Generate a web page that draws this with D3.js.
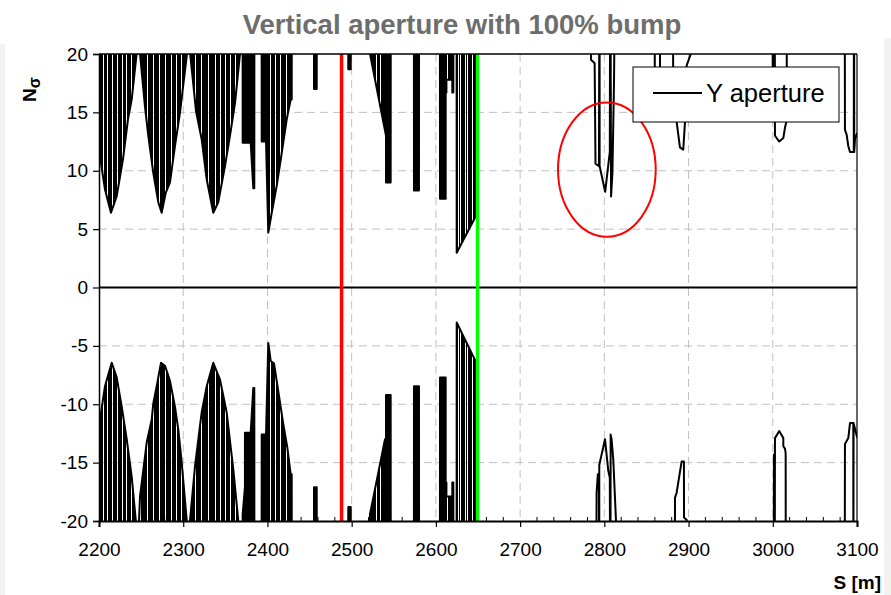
<!DOCTYPE html>
<html>
<head>
<meta charset="utf-8">
<script src="https://cdn.jsdelivr.net/npm/d3@7"></script>
<style>
  html, body { margin: 0; padding: 0; background: #ffffff; }
  svg { display: block; font-family: "Liberation Sans", Arial, sans-serif; }
</style>
</head>
<body>
<svg id="chart" width="891" height="595"></svg>
<script>
// ---------------- DATA ----------------
const title = "Vertical aperture with 100% bump";
const seriesName = "Y aperture";
const xLabel = "S [m]";
const xTicks = [2200, 2300, 2400, 2500, 2600, 2700, 2800, 2900, 3000, 3100];
const yTicks = [-20, -15, -10, -5, 0, 5, 10, 15, 20];

// upper aperture boundary [s, Nsigma] (values above 20 are off-scale)
const upperAperture = [
  [2199,12.5],[2201.2,11.2],[2207.1,8.4],[2214.2,6.4],[2221.0,7.8],[2228.5,11.0],[2234.4,14.4],[2238.8,16.1],[2244.8,20.1],[2246,23],
  [2248.7,20.0],[2254.6,15.5],[2258.5,13.0],[2264.5,9.8],[2270.4,7.3],[2274.4,6.4],[2279.2,8.1],[2284.3,9.0],[2290.2,12.1],[2296.2,15.0],[2304.1,19.8],[2306,23],
  [2308.0,20.2],[2315.2,15.1],[2321.9,12.7],[2327.9,9.25],[2335.7,6.4],[2341.6,7.3],[2349.6,10.4],[2355.5,13.0],[2361.5,15.8],[2367.4,20.0],[2369,23],
  [2370.5,23],[2370.6,12.4],[2380.1,12.4],[2383.2,8.5],[2384.4,8.5],[2384.5,23],
  [2393.1,23],[2393.2,12.5],[2398.3,12.5],[2401.0,4.7],[2405.1,6.4],[2411.0,8.7],[2416.9,11.5],[2422.9,14.4],[2427.6,16.1],[2428.8,16.1],[2428.9,23],
  [2455.2,23],[2455.3,17.0],[2458.5,17.0],[2458.6,23],
  [2495.9,23],[2496.0,18.7],[2498.9,18.7],[2499.0,23],
  [2521.7,23],[2521.8,20.0],[2540.8,13.0],[2540.8,9.0],[2546.3,9.0],[2546.4,23],
  [2573.9,23],[2574.0,8.3],[2579.9,8.3],[2580.0,23],
  [2604.8,23],[2604.9,7.6],[2611.6,7.6],[2611.6,16.7],[2612.5,16.7],[2612.5,17.8],[2619.5,17.8],[2619.5,16.7],[2620.7,16.7],[2620.8,23],
  [2624.6,23],[2624.7,2.97],[2646.4,5.97],[2646.5,23],
  [2783.6,23],[2784.2,19.5],[2788.5,19.2],[2789.5,10.6],[2793.6,10.4],[2794.0,23],[2794.4,23],[2794.4,10.4],[2801.0,8.2],[2805.5,11.0],[2806.5,11.6],[2806.8,23],
  [2807.4,23],[2808.0,7.8],[2809.6,9.8],[2811.5,17.6],[2812.2,23],
  [2859.8,23],[2860.0,15.0],[2866.0,15.0],[2866.2,23],
  [2881.5,23],[2881.8,17.0],[2885.8,14.2],[2889.8,12.0],[2893.7,11.8],[2895.7,14.1],[2897.7,19.0],[2903.6,20.2],[2904,23],
  [2999.8,23],[3000.0,14.5],[3001.0,14.5],[3001.2,23],[3002.4,23],[3002.6,13.0],[3007.7,12.5],[3012.5,12.8],[3014.5,13.7],[3016.5,14.3],[3016.7,23],
  [3085.5,23],[3085.7,13.5],[3087.7,13.1],[3089.7,12.1],[3091.7,11.6],[3096.2,11.6],[3096.3,23],[3096.6,23],[3096.7,11.6],[3097.6,12.7],[3100,13.2],[3101,13.2]
];

// lower aperture boundary [s, Nsigma] (values below -20 are off-scale)
const lowerAperture = [
  [2199,-12.5],[2201.2,-11.3],[2207.1,-8.45],[2215.1,-6.45],[2221.0,-7.7],[2227.0,-10.2],[2232.9,-13.0],[2238.8,-16.2],[2243.9,-20.1],[2246,-23],
  [2247.5,-20.0],[2248.7,-17.9],[2256.6,-13.3],[2262.6,-11.3],[2264.5,-9.9],[2268.5,-8.45],[2273.6,-6.45],[2278.4,-6.7],[2284.3,-8.0],[2290.2,-10.2],[2294.2,-12.2],[2298.2,-15.0],[2304.1,-19.9],[2306,-23],
  [2308.0,-20.0],[2314.0,-15.3],[2321.9,-10.7],[2327.9,-8.45],[2335.7,-6.45],[2343.7,-7.9],[2351.6,-10.7],[2359.5,-15.6],[2365.4,-20.0],[2369,-23],
  [2370.5,-23],[2370.6,-19.4],[2373.3,-17.1],[2373.3,-12.45],[2380.1,-12.45],[2383.2,-8.6],[2384.4,-8.6],[2384.5,-23],
  [2393.1,-23],[2393.2,-12.6],[2398.3,-12.6],[2401.0,-4.75],[2403.9,-6.3],[2407.8,-6.5],[2412.9,-8.9],[2418.8,-11.7],[2423.6,-13.7],[2427.6,-16.0],[2428.8,-16.0],[2428.9,-23],
  [2455.2,-23],[2455.3,-17.1],[2458.5,-17.1],[2458.6,-23],
  [2495.9,-23],[2496.0,-18.8],[2498.9,-18.8],[2499.0,-23],
  [2521.7,-23],[2521.8,-19.4],[2539.6,-13.0],[2540.8,-13.0],[2540.8,-9.2],[2546.3,-9.2],[2546.4,-23],
  [2573.9,-23],[2574.0,-8.45],[2579.9,-8.45],[2580.0,-23],
  [2604.8,-23],[2604.9,-7.7],[2611.6,-7.7],[2611.6,-16.7],[2612.5,-16.7],[2612.5,-17.9],[2619.5,-17.9],[2619.5,-16.7],[2620.7,-16.7],[2620.8,-23],
  [2624.6,-23],[2624.7,-3.0],[2646.4,-6.2],[2646.5,-23],
  [2790.6,-23],[2790.8,-17.6],[2792.3,-16.0],[2793.5,-16.0],[2793.8,-23],[2794.0,-23],[2794.0,-15.2],[2800.8,-13.0],[2804.7,-15.7],[2806.5,-16.3],[2806.8,-23],
  [2807.3,-23],[2807.5,-12.6],[2808.6,-13.0],[2810.6,-14.7],[2813.8,-19.9],[2814,-23],
  [2883.8,-23],[2883.9,-18.0],[2885.8,-17.6],[2891.8,-14.9],[2894.5,-14.9],[2894.6,-19.7],[2897.7,-19.9],[2897.8,-23],
  [3001.2,-23],[3001.4,-14.3],[3002.0,-14.3],[3002.2,-23],[3002.4,-23],[3002.6,-12.9],[3007.7,-12.3],[3012.5,-12.9],[3012.5,-13.6],[3014.5,-13.8],[3015.3,-14.2],[3015.4,-23],
  [3085.5,-23],[3085.7,-13.4],[3089.7,-12.9],[3091.7,-11.6],[3095.6,-11.6],[3095.7,-23],[3095.8,-23],[3095.9,-11.6],[3097.6,-12.1],[3100,-12.8],[3101,-12.8]
];

// element spans [s0, s1] where the aperture line runs off-scale (solid-looking bars)
const elementSpans = [
  [2200.0,2204.6],[2205.8,2210.0],[2211.2,2215.6],[2216.8,2221.0],[2222.2,2226.8],[2228.0,2232.6],[2233.8,2238.0],[2239.2,2244.5],
  [2249.5,2257.0],[2258.2,2264.4],[2265.6,2271.4],[2272.6,2278.4],[2279.6,2284.9],[2286.1,2291.4],[2292.6,2297.9],[2299.1,2305.0],
  [2307.5,2313.9],[2315.1,2321.4],[2322.6,2329.4],[2330.6,2337.4],[2338.6,2343.4],[2344.6,2349.4],[2350.6,2355.4],[2356.6,2361.9],[2363.1,2368.5],
  [2370.6,2380.1],[2380.9,2384.4],
  [2393.2,2403.0],[2404.2,2409.3],[2410.5,2415.3],[2416.5,2421.8],[2423.0,2428.8],
  [2455.3,2458.5],[2496.0,2498.9],[2521.8,2529.2],[2530.0,2534.0],[2534.8,2546.3],[2574.0,2579.9],[2604.9,2613.3],[2614.5,2620.7],
  [2624.7,2626.5],[2627.3,2629.1],[2629.9,2631.8],[2632.6,2634.6],[2635.4,2637.3],[2638.1,2640.0],[2640.8,2642.8],[2643.6,2646.4]
];

const markerRed = 2488;
const markerGreen = 2649.5;
const highlight = { s: 2803, n: 10.1, ds: 58, dn: 5.75 };

// ---------------- LAYOUT ----------------
const svg = d3.select("#chart");
const W = 891, H = 595;
const L = 99, R = 857, T = 54, B = 521;

const x = d3.scaleLinear().domain([2200, 3100]).range([L, R]);
const y = d3.scaleLinear().domain([-20, 20]).range([B, T]);
const FONT = "'Liberation Sans', Arial, sans-serif";

svg.append("rect").attr("width", W).attr("height", H).attr("fill", "#ffffff");
svg.append("rect").attr("x", 0).attr("y", 44).attr("width", 5).attr("height", H - 44).attr("fill", "#f2f2f2");
svg.append("rect").attr("x", 884).attr("y", 38).attr("width", 7).attr("height", H - 38).attr("fill", "#f2f2f2");

const defs = svg.append("defs");
defs.append("clipPath").attr("id", "plotclip")
  .append("rect").attr("x", L).attr("y", T).attr("width", R - L).attr("height", B - T);

const upperArea = d3.area().x(d => x(d[0])).y0(d => y(d[1])).y1(y(26));
const lowerArea = d3.area().x(d => x(d[0])).y0(d => y(d[1])).y1(y(-26));
const fc = defs.append("clipPath").attr("id", "fillclip");
fc.append("path").attr("d", upperArea(upperAperture));
fc.append("path").attr("d", lowerArea(lowerAperture));

// grid
const grid = svg.append("g");
grid.selectAll("line.vg").data(xTicks.filter(t => t > 2200 && t < 3100)).join("line")
  .attr("x1", d => x(d)).attr("x2", d => x(d)).attr("y1", T).attr("y2", B)
  .attr("stroke", "#c0c0c0").attr("stroke-width", 1).attr("stroke-dasharray", "8,5");
grid.selectAll("line.hg").data(yTicks.filter(t => t !== 0 && Math.abs(t) < 20)).join("line")
  .attr("x1", L).attr("x2", R).attr("y1", d => y(d)).attr("y2", d => y(d))
  .attr("stroke", "#c0c0c0").attr("stroke-width", 1).attr("stroke-dasharray", "8,5");

// data
const plot = svg.append("g").attr("clip-path", "url(#plotclip)");
plot.append("g").attr("clip-path", "url(#fillclip)")
  .selectAll("rect").data(elementSpans).join("rect")
  .attr("x", d => x(d[0])).attr("width", d => Math.max(0.6, x(d[1]) - x(d[0])))
  .attr("y", y(20)).attr("height", y(-20) - y(20)).attr("fill", "#000")
  .attr("shape-rendering", "crispEdges");

const line = d3.line().x(d => x(d[0])).y(d => y(d[1]));
plot.append("path").attr("d", line(upperAperture)).attr("fill", "none")
  .attr("stroke", "#000").attr("stroke-width", 2).attr("stroke-linejoin", "round");
plot.append("path").attr("d", line(lowerAperture)).attr("fill", "none")
  .attr("stroke", "#000").attr("stroke-width", 2).attr("stroke-linejoin", "round");

// zero line
svg.append("line").attr("x1", L).attr("x2", R).attr("y1", y(0)).attr("y2", y(0))
  .attr("stroke", "#000").attr("stroke-width", 2);

// markers
svg.append("line").attr("x1", x(markerRed)).attr("x2", x(markerRed)).attr("y1", T).attr("y2", B)
  .attr("stroke", "#ff0000").attr("stroke-width", 3.5);
svg.append("line").attr("x1", x(markerGreen)).attr("x2", x(markerGreen)).attr("y1", T).attr("y2", B)
  .attr("stroke", "#00ff00").attr("stroke-width", 3.5);

// frame
svg.append("line").attr("x1", L).attr("x2", R).attr("y1", T).attr("y2", T).attr("stroke", "#000").attr("stroke-width", 1.5);
svg.append("line").attr("x1", R).attr("x2", R).attr("y1", T).attr("y2", B).attr("stroke", "#000").attr("stroke-width", 1.2);

// axes
const yAxis = d3.axisLeft(y).tickValues(yTicks).tickSize(6).tickFormat(d3.format("d"));
const gy = svg.append("g").attr("transform", `translate(${L},0)`).call(yAxis);
gy.select(".domain").attr("stroke", "#000").attr("stroke-width", 1.5);
gy.selectAll(".tick line").attr("stroke", "#000").attr("stroke-width", 1.2);
gy.selectAll(".tick text").attr("font-size", 19).attr("fill", "#000").attr("x", -11)
  .attr("font-family", FONT).text(d => d < 0 ? "-" + Math.abs(d) : d);

const minorTicks = d3.range(2220, 3100, 20).filter(t => t % 100 !== 0);
svg.append("g").selectAll("line").data(minorTicks).join("line")
  .attr("x1", d => x(d)).attr("x2", d => x(d)).attr("y1", B).attr("y2", B - 4)
  .attr("stroke", "#000").attr("stroke-width", 1);

const xAxis = d3.axisBottom(x).tickValues(xTicks).tickSize(6).tickFormat(d3.format("d"));
const gx = svg.append("g").attr("transform", `translate(0,${B})`).call(xAxis);
gx.select(".domain").attr("stroke", "#000").attr("stroke-width", 2);
gx.selectAll(".tick line").attr("stroke", "#000").attr("stroke-width", 1.2);
gx.selectAll(".tick text").attr("font-size", 19).attr("fill", "#000").attr("y", 22)
  .attr("font-family", FONT);

// highlight ellipse
svg.append("ellipse")
  .attr("cx", x(highlight.s)).attr("cy", y(highlight.n))
  .attr("rx", x(highlight.s + highlight.ds) - x(highlight.s))
  .attr("ry", y(highlight.n - highlight.dn) - y(highlight.n))
  .attr("fill", "none").attr("stroke", "#ff0000").attr("stroke-width", 2);

// legend
const lg = svg.append("g");
lg.append("rect").attr("x", 633).attr("y", 67).attr("width", 206).attr("height", 55)
  .attr("fill", "#fff").attr("stroke", "#000").attr("stroke-width", 1);
lg.append("line").attr("x1", 653).attr("x2", 702).attr("y1", 93).attr("y2", 93)
  .attr("stroke", "#000").attr("stroke-width", 1.8);
lg.append("text").attr("x", 706).attr("y", 102).attr("font-size", 25.5).attr("fill", "#000").text(seriesName);

// title & labels
svg.append("text").attr("x", 462).attr("y", 34).attr("text-anchor", "middle")
  .attr("font-size", 27.5).attr("font-weight", "bold").attr("fill", "#6d6d6d").text(title);

const yl = svg.append("text").attr("transform", "translate(36,102) rotate(-90)")
  .attr("font-size", 19).attr("font-weight", "bold").attr("fill", "#000");
yl.append("tspan").text("N");
yl.append("tspan").attr("font-size", 16).attr("dy", 4).text("σ");

svg.append("text").attr("x", 881).attr("y", 589).attr("text-anchor", "end")
  .attr("font-size", 19).attr("font-weight", "bold").attr("fill", "#000").text(xLabel);
</script>
</body>
</html>
